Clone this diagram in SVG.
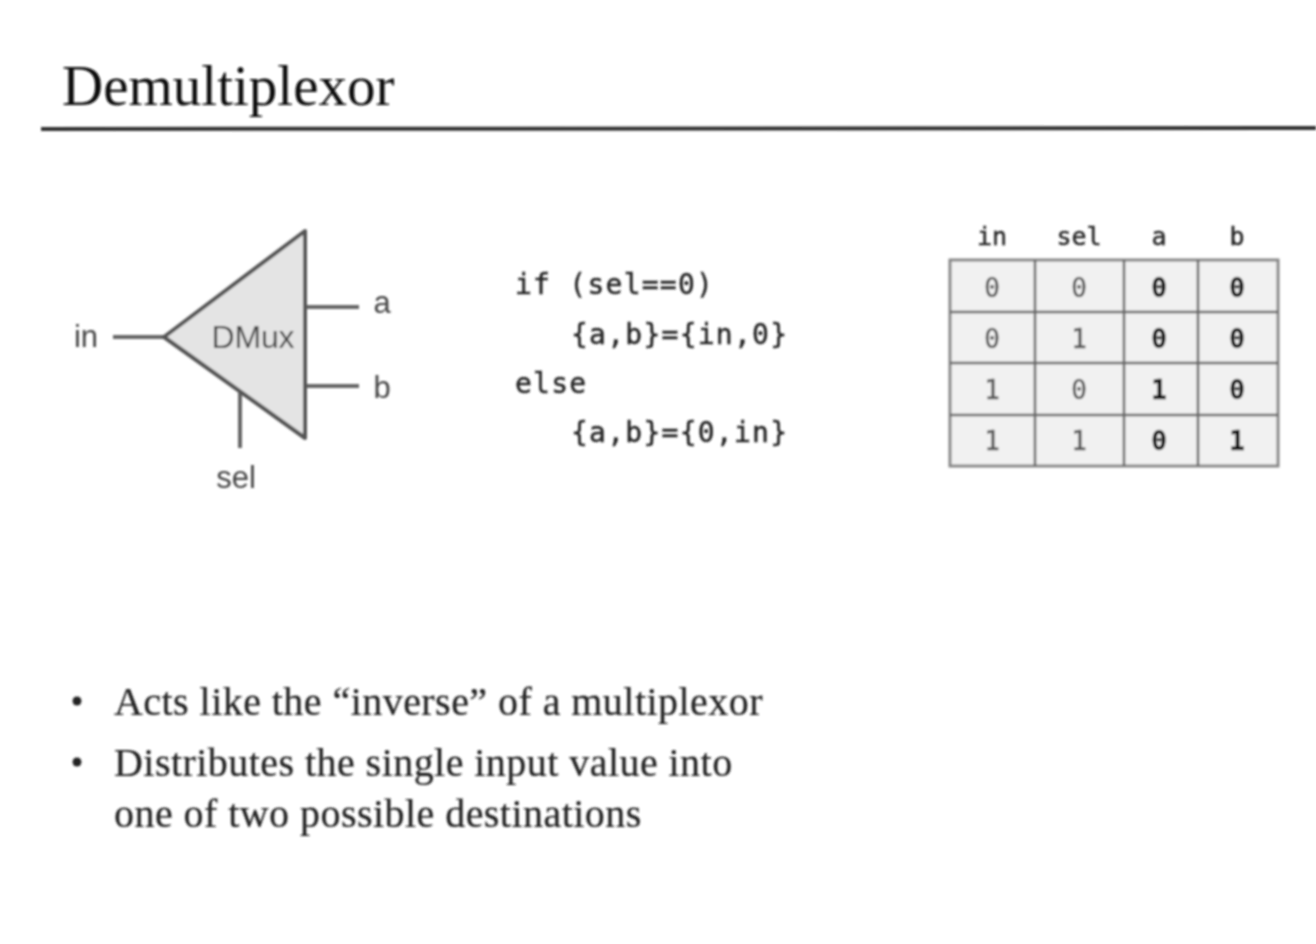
<svg xmlns="http://www.w3.org/2000/svg" width="1316" height="944" viewBox="0 0 1316 944">
<style>
.title{font:57px "Liberation Serif",serif;fill:#111}
.bullet{font:40px "Liberation Serif",serif;fill:#222;letter-spacing:.45px;stroke:#222;stroke-width:.2}
.lab{font:31px "Liberation Sans",sans-serif;fill:#444;text-anchor:middle}
.dm{font-size:32px;letter-spacing:-.2px}
.code{font:28px "DejaVu Sans Mono",monospace;fill:#222;letter-spacing:1.25px;stroke:#222;stroke-width:.4}
.th{font:25px "DejaVu Sans Mono",monospace;fill:#222;text-anchor:middle;stroke:#222;stroke-width:.4}
.td{font:26px "DejaVu Sans Mono",monospace;fill:#555;text-anchor:middle;stroke:#555;stroke-width:.4}
.b{font-weight:bold;fill:#111;stroke:#111}
.wire{stroke:#666;stroke-width:4;fill:none}
.grid{stroke:#666;stroke-width:2.5;fill:none}
</style>
<defs><filter id="soft" x="-2%" y="-2%" width="104%" height="104%"><feGaussianBlur stdDeviation="0.8"/></filter></defs>
<rect width="1316" height="944" fill="#fff"/>
<g filter="url(#soft)">
<g id="title">
<text class="title" x="62" y="105">Demultiplexor</text>
<line x1="41" y1="129" x2="1316" y2="128" stroke="#333" stroke-width="4"/>
</g>
<g id="connectors">
<line class="wire" x1="113" y1="337" x2="165" y2="337"/>
<line class="wire" x1="305" y1="307" x2="359" y2="307"/>
<line class="wire" x1="305" y1="386" x2="359" y2="386"/>
<line class="wire" x1="240" y1="393" x2="240" y2="448"/>
</g>
<g id="dmux">
<path d="M164 337 L305 231 V438 Z" fill="#e4e4e4" stroke="#555" stroke-width="4" stroke-linejoin="round"/>
<text class="lab dm" x="253" y="348">DMux</text>
</g>
<g id="port-in"><text class="lab" x="86" y="347">in</text></g>
<g id="port-a"><text class="lab" x="382" y="313">a</text></g>
<g id="port-b"><text class="lab" x="382" y="398">b</text></g>
<g id="port-sel"><text class="lab" x="236" y="488">sel</text></g>
<g id="code">
<text class="code" x="515" y="294">if (sel==0)</text>
<text class="code" x="571" y="344">{a,b}={in,0}</text>
<text class="code" x="515" y="393">else</text>
<text class="code" x="571" y="442">{a,b}={0,in}</text>
</g>
<g id="truth-table">
<rect x="950" y="260" width="328" height="206" fill="#f1f1f1" stroke="#888" stroke-width="3"/>
<path class="grid" d="M1035 260V466M1124 260V466M1198 260V466M950 312H1278M950 363H1278M950 415H1278"/>
<text class="th" x="992" y="245">in</text><text class="th" x="1079" y="245">sel</text><text class="th" x="1159" y="245">a</text><text class="th" x="1237" y="245">b</text>
<text class="td" x="992" y="297">0</text><text class="td" x="1079" y="297">0</text><text class="td b" x="1159" y="297">0</text><text class="td b" x="1237" y="297">0</text>
<text class="td" x="992" y="348">0</text><text class="td" x="1079" y="348">1</text><text class="td b" x="1159" y="348">0</text><text class="td b" x="1237" y="348">0</text>
<text class="td" x="992" y="399">1</text><text class="td" x="1079" y="399">0</text><text class="td b" x="1159" y="399">1</text><text class="td b" x="1237" y="399">0</text>
<text class="td" x="992" y="450">1</text><text class="td" x="1079" y="450">1</text><text class="td b" x="1159" y="450">0</text><text class="td b" x="1237" y="450">1</text>
</g>
<g id="bullets">
<circle cx="77" cy="701" r="4.5" fill="#222"/>
<text class="bullet" x="114" y="715">Acts like the “inverse” of a multiplexor</text>
<circle cx="77" cy="762" r="4.5" fill="#222"/>
<text class="bullet" x="114" y="776">Distributes the single input value into</text>
<text class="bullet" x="114" y="827">one of two possible destinations</text>
</g>
</g>
</svg>
